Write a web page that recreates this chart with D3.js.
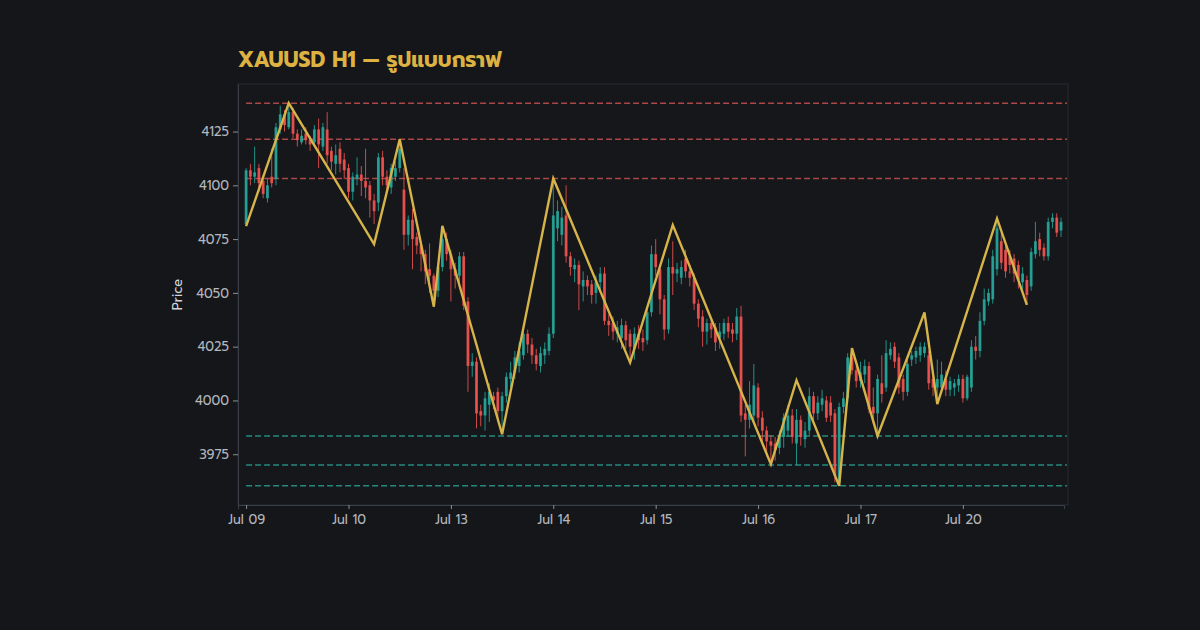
<!DOCTYPE html>
<html>
<head>
<meta charset="utf-8">
<script src="https://cdn.jsdelivr.net/npm/d3@7"></script>
<style>
  html, body { margin: 0; padding: 0; background: #141619; }
  svg { display: block; }
</style>
</head>
<body>
<div id="chart"></div>
<script>
// XAUUSD H1 candles, one row per hour: [open, high, low, close]
const candles = [
  [4082,4108,4081,4107],[4107,4110,4100,4104],[4104,4118,4101,4106],[4108,4110,4097,4101],
  [4102,4104,4094,4096],[4094,4103,4092,4100],[4104,4117,4099,4101],[4103,4129,4100,4127],
  [4126,4137,4124,4133],[4133,4135,4125,4128],[4127,4138.2,4126,4134],[4134,4136,4122,4124],
  [4124,4126,4118,4121],[4120,4126,4119,4123],[4124,4127,4119,4121],[4121,4123,4116,4119],
  [4120,4128,4118,4126],[4126,4131,4108,4119],[4118,4129,4116,4127],[4126,4134,4110,4114],
  [4116,4118,4107,4111],[4110,4119,4105,4114],[4117,4120,4106,4110],[4112,4115,4103,4107],
  [4108,4110,4094,4097],[4097,4106,4093,4104],[4103,4113,4100,4105],[4105,4109,4095,4102],
  [4102,4117,4094,4099],[4100,4102,4085,4093],[4093,4096,4082,4088],[4092,4115,4088,4113],
  [4113,4116,4100,4104],[4104,4107,4097,4100],[4099,4110,4096,4108],[4104,4111,4102,4108],
  [4108,4121.4,4106,4117],[4098,4108,4070,4077],[4077,4086,4072,4084],[4084,4089,4061,4075],
  [4076,4078,4068,4072],[4072,4074,4060,4068],[4068,4070,4054,4060],[4061,4073,4050,4058],
  [4058,4059,4043.6,4051],[4051,4064,4048,4062],[4062,4079,4060,4075],[4075,4078,4065,4068],
  [4068,4070,4046,4061],[4061,4064,4052,4058],[4058,4069,4055,4067],[4067,4069,4042,4044],
  [4046,4048,4004,4016],[4016,4022,4011,4018],[4018,4020,3987,3994],[3995,3998,3988,3993],
  [3993,4004,3986,4001],[3998,4008,3990,4004],[4002,4004,3996,4000],[4004,4006,3990,3995],
  [3995,4004,3984.3,4002],[4002,4013,3999,4011],[4010,4018,4006,4013],[4013,4023,4010,4020],
  [4016,4027,4013,4023],[4021,4033,4019,4031],[4031,4033,4022,4026],[4026,4029,4017,4021],
  [4021,4024,4014,4017],[4016,4025,4013,4022],[4021,4027,4017,4024],[4023,4034,4021,4031],
  [4031,4103.2,4029,4086],[4080,4093,4074,4088],[4077,4090,4072,4085],[4086,4100,4064,4067],
  [4067,4069,4058,4062],[4061,4066,4055,4063],[4063,4065,4042,4054],[4053,4060,4046,4056],
  [4056,4058,4049,4053],[4054,4056,4045,4049],[4050,4058,4045,4055],[4055,4062,4050,4059],
  [4059,4062,4035,4037],[4037,4040,4030,4035],[4036,4039,4028,4032],[4031,4037,4027,4034],
  [4029,4038,4024,4035],[4035,4037,4024,4028],[4031,4033,4017.6,4025],[4024,4034,4019,4031],
  [4031,4035,4024,4028],[4029,4033,4023,4027],[4028,4043,4026,4041],[4041,4072,4039,4068],
  [4068,4075,4058,4062],[4061,4063,4040,4047],[4047,4049,4028,4033],[4033,4066,4031,4062],
  [4062,4074,4049,4059],[4059,4064,4055,4061],[4057,4065,4054,4062],[4066,4070,4057,4060],
  [4060,4063,4053,4057],[4057,4059,4042,4045],[4045,4047,4034,4038],[4039,4042,4025,4032],
  [4032,4038,4026,4036],[4036,4038,4029,4033],[4034,4036,4023,4027],[4029,4036,4024,4032],
  [4031,4038,4028,4036],[4036,4039,4029,4032],[4033,4036,4027,4031],[4031,4043,4028,4039],
  [4039,4044,3990,3993],[3994,3998,3974,3991],[3991,4009,3987,3998],[3993,4017,3990,4007],
  [4006,4008,3988,3992],[3992,3995,3981,3986],[3986,3988,3974,3981],[3981,3984,3970.4,3979],
  [3980,3983,3972,3977],[3978,3986,3975,3984],[3983,3994,3978,3992],[3986,3998,3983,3993],
  [3993,3996,3980,3983],[3980,3996,3970,3991],[3991,3993,3979,3983],[3982,3990,3978,3986],
  [3986,4006,3984,4002],[4002,4004,3991,3994],[3994,4002,3991,3999],[3998,4005,3995,4001],
  [4000,4002,3990,3992],[3999,4002,3990,3993],[3994,3996,3962,3965],[3962,3999,3960.3,3997],
  [3997,4004,3994,4001],[4001,4022,3999,4020],[4020,4024.3,4012,4014],[4014,4016,4006,4009],
  [4009,4018,4006,4013],[4012,4019,4008,4016],[4016,4018,3994,3996],[3997,4006,3989,3994],
  [3994,4012,3983.5,4010],[4008,4021,3999,4003],[4006,4028,4004,4022],[4021,4027,4019,4024],
  [4025,4027,4015,4018],[4020,4022,4003,4006],[4010,4012,4000,4004],[4004,4019,4002,4017],
  [4019,4023,4016,4021],[4020,4025,4017,4023],[4021,4027,4018,4025],[4022,4027,4020,4025],
  [4021,4023,4005,4008],[4010,4012,4002,4006],[4006,4019,3999,4010],[4006,4018,4003,4012],
  [4010,4014,4002,4005],[4005,4011,4002,4009],[4006,4010,4002,4008],[4007,4012,4004,4010],
  [4010,4012,3999,4001],[4001,4012,4000,4011],[4006,4028,4004,4025],[4025,4030,4019,4023],
  [4023,4041,4020,4037],[4037,4052,4035,4047],[4046,4052,4044,4050],[4047,4070,4045,4067],
  [4061,4084.6,4058,4080],[4074,4078,4061,4064],[4070,4073,4057,4060],[4067,4070,4059,4063],
  [4066,4068,4055,4059],[4063,4065,4052,4056],[4055,4062,4051,4059],[4056,4058,4044.4,4049],
  [4053,4071,4051,4069],[4068,4083,4066,4074],[4075,4078,4067,4070],[4071,4073,4065,4067],
  [4067,4085,4065,4083],[4083,4087,4080,4085],[4085,4087,4076,4078],[4079,4085,4076,4083]
];

// first candle of each trading day and its label
const dayStarts = [0, 24, 48, 72, 96, 120, 144, 168];
const dayLabels = ["Jul 09", "Jul 10", "Jul 13", "Jul 14", "Jul 15", "Jul 16", "Jul 17", "Jul 20"];

// zigzag pattern pivots (candle index, price)
const pivotIdx = [0, 10, 30, 36, 44, 46, 60, 72, 90, 100, 123, 129, 139, 142, 148, 159, 162, 176, 183];
const pivotPrice = [4081, 4138.2, 4072.7, 4121.4, 4043.6, 4081.2, 3984.3, 4103.2, 4017.6, 4081.5,
                    3970.4, 4009.4, 3960.3, 4024.3, 3983.5, 4040.9, 3998.3, 4084.6, 4044.4];

// horizontal levels
const resistance = [4138.2, 4121.4, 4103.2];
const support = [3983.5, 3970, 3960.3];

const yTicks = [3975, 4000, 4025, 4050, 4075, 4100, 4125];

const width = 1200;
const height = 630;
const margin = { top: 84, right: 132, bottom: 125, left: 238 };
const innerW = width - margin.left - margin.right;
const innerH = height - margin.top - margin.bottom;

const fontStack = '"Prompt", "Kanit", "Noto Sans Thai", "Noto Sans", "DejaVu Sans", sans-serif';
const up = "#26a69a";
const down = "#ef5350";

const svg = d3.select("#chart")
  .append("svg")
  .attr("width", width)
  .attr("height", height)
  .style("font-family", fontStack);

svg.append("rect")
  .attr("width", width)
  .attr("height", height)
  .attr("fill", "#141619");

// title
svg.append("text")
  .attr("x", margin.left)
  .attr("y", 67)
  .attr("fill", "#ddb242")
  .attr("font-size", 21)
  .attr("font-weight", 700)
  .text("XAUUSD H1 — รูปแบบกราฟ");

const g = svg.append("g")
  .attr("transform", `translate(${margin.left},${margin.top})`);

// plot frame
g.append("rect")
  .attr("width", innerW)
  .attr("height", innerH)
  .attr("fill", "#15171b")
  .attr("stroke", "#262a31")
  .attr("stroke-width", 1);

// scales
const xScale = d3.scaleLinear()
  .domain([-1.9, candles.length - 1 + 0.7])
  .range([0, innerW - 4]);

const lo = d3.min(candles, d => d[2]);
const hi = d3.max(candles, d => d[1]);
const pad = (hi - lo) * 0.05;
const yScale = d3.scaleLinear()
  .domain([lo - pad, hi + pad])
  .range([innerH, 0]);

// support / resistance levels
const levels = resistance.map(v => ({ v, c: "#c4524f" }))
  .concat(support.map(v => ({ v, c: "#2a9d8f" })));

g.selectAll(".level")
  .data(levels)
  .enter()
  .append("line")
  .attr("class", "level")
  .attr("x1", xScale(0))
  .attr("x2", innerW - 1)
  .attr("y1", d => yScale(d.v))
  .attr("y2", d => yScale(d.v))
  .attr("stroke", d => d.c)
  .attr("stroke-width", 1.5)
  .attr("stroke-dasharray", "6,3")
  .attr("opacity", 0.85);

// candles
const bodyW = 2.8;
const cg = g.selectAll(".candle")
  .data(candles)
  .enter()
  .append("g")
  .attr("class", "candle");

cg.append("line")
  .attr("x1", (d, i) => xScale(i))
  .attr("x2", (d, i) => xScale(i))
  .attr("y1", d => yScale(d[1]))
  .attr("y2", d => yScale(d[2]))
  .attr("stroke", d => d[3] >= d[0] ? up : down)
  .attr("stroke-width", 1)
  .attr("opacity", 0.85);

cg.append("rect")
  .attr("x", (d, i) => xScale(i) - bodyW / 2)
  .attr("y", d => yScale(Math.max(d[0], d[3])))
  .attr("width", bodyW)
  .attr("height", d => Math.max(1, Math.abs(yScale(d[0]) - yScale(d[3]))))
  .attr("fill", d => d[3] >= d[0] ? up : down)
  .attr("opacity", 0.9);

// zigzag line
const zigzag = pivotIdx.map((idx, k) => [idx, pivotPrice[k]]);
g.append("path")
  .datum(zigzag)
  .attr("fill", "none")
  .attr("stroke", "#d6b44a")
  .attr("stroke-width", 2.4)
  .attr("stroke-linejoin", "miter")
  .attr("d", d3.line().x(d => xScale(d[0])).y(d => yScale(d[1])));

// axes
const xAxis = g.append("g")
  .attr("transform", `translate(0, ${innerH})`)
  .call(d3.axisBottom(xScale)
    .tickValues(dayStarts)
    .tickFormat((d, i) => dayLabels[i])
    .tickSize(4)
    .tickSizeOuter(4)
    .tickPadding(6));

const yAxis = g.append("g")
  .call(d3.axisLeft(yScale)
    .tickValues(yTicks)
    .tickFormat(d3.format("d"))
    .tickSize(5)
    .tickSizeOuter(0)
    .tickPadding(4));

[xAxis, yAxis].forEach(ax => {
  ax.attr("font-family", fontStack).attr("font-size", 13);
  ax.select(".domain").attr("stroke", "#3a3e46");
  ax.selectAll(".tick line").attr("stroke", "#8a8e96");
  ax.selectAll(".tick text").attr("fill", "#b4b7bd");
});

// y label
svg.append("text")
  .attr("transform", `translate(182, ${margin.top + innerH / 2}) rotate(-90)`)
  .attr("text-anchor", "middle")
  .attr("fill", "#d0d3d8")
  .attr("font-size", 13)
  .text("Price");
</script>
</body>
</html>
